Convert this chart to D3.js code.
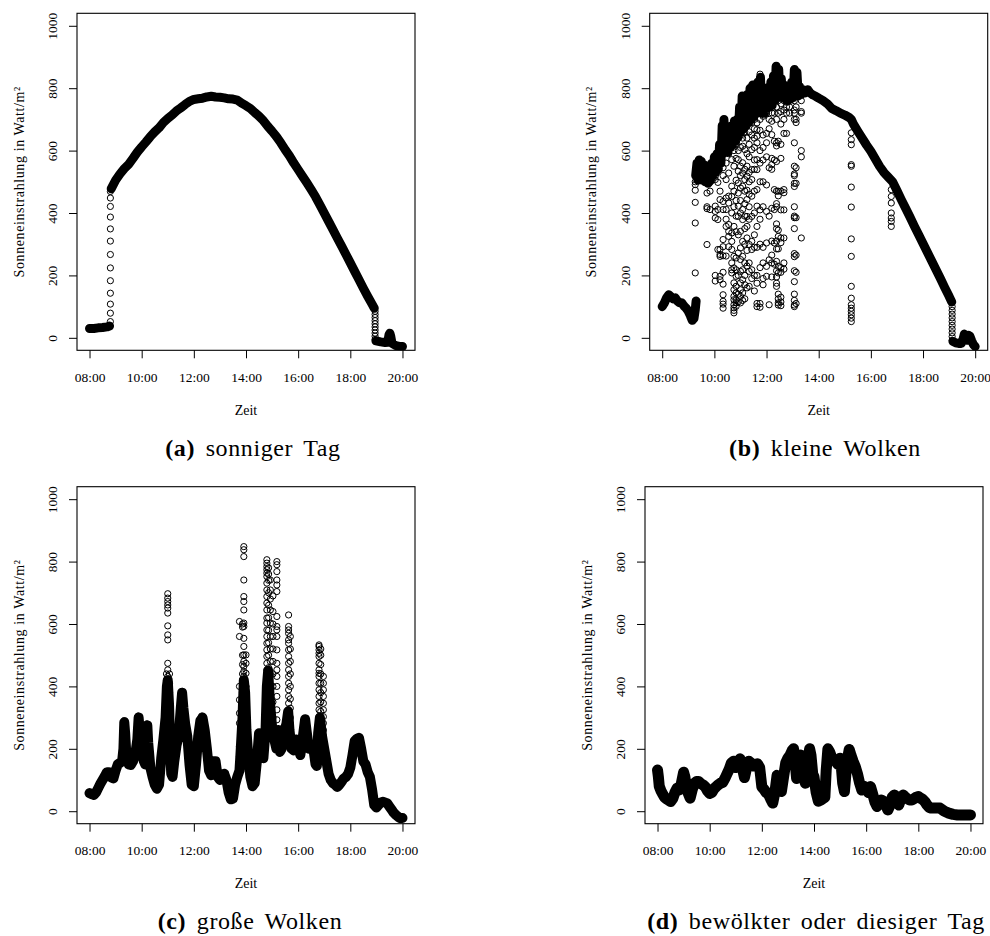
<!DOCTYPE html>
<html>
<head>
<meta charset="utf-8">
<script src="https://cdn.jsdelivr.net/npm/d3@7"></script>
<style>
  body { margin: 0; background: #fff; }
  svg text { font-family: "Liberation Serif", "DejaVu Serif", serif; }
</style>
</head>
<body>
<svg id="chart"></svg>
<script>
// ---- data (time "HH:MM", W/m²) ----
const xTickLabels = ["08:00", "10:00", "12:00", "14:00", "16:00", "18:00", "20:00"];
const yTicks = [0, 200, 400, 600, 800, 1000];
const xTitle = "Zeit";
const yTitle = "Sonneneinstrahlung in Watt/m²";
const captionTags = ["(a)", "(b)", "(c)", "(d)"];
const captionTexts = ["sonniger Tag", "kleine Wolken", "große Wolken", "bewölkter oder diesiger Tag"];

// (a) sonniger Tag: dense trace (null = gap), then columns of single readings
const sunnyTrace = [
  ["08:00",30],["08:10",30],["08:20",32],["08:30",33],["08:40",35],["08:46",38],["08:47",null],
  ["08:50",478],["09:00",505],["09:10",525],["09:20",542],["09:30",556],["09:40",575],["09:50",595],
  ["10:00",612],["10:10",628],["10:20",645],["10:30",660],["10:40",673],["10:50",690],["11:00",703],
  ["11:10",714],["11:20",727],["11:30",737],["11:40",748],["11:50",758],["12:00",764],["12:10",766],
  ["12:20",768],["12:30",772],["12:40",774],["12:50",772],["13:00",771],["13:10",769],["13:20",766],
  ["13:30",765],["13:40",762],["13:50",752],["14:00",744],["14:10",735],["14:20",722],["14:30",710],
  ["14:40",696],["14:50",678],["15:00",662],["15:10",645],["15:20",625],["15:30",603],["15:40",583],
  ["15:50",560],["16:00",539],["16:10",518],["16:20",497],["16:30",475],["16:40",452],["16:50",426],
  ["17:00",400],["17:10",373],["17:20",347],["17:30",320],["17:40",294],["17:50",267],["18:00",240],
  ["18:10",213],["18:20",186],["18:30",159],["18:40",133],["18:50",108],["18:55",95],["18:57",null],
  ["18:59",-10],["19:10",-13],["19:20",-15],["19:26",-14],["19:29",10],["19:31",15],["19:33",5],
  ["19:36",-18],["19:45",-25],["19:55",-28],["20:00",-28]
];
const sunnyColumns = [
  ["08:48", [52, 79, 108, 143, 183, 224, 267, 310, 349, 387, 421, 448, 469]],
  ["18:57", [85, 75, 65, 55, 45, 35, 25, 15, 5, -5]]
];

// (b) kleine Wolken
const smallTrace = [
  ["08:00",100],["08:05",112],["08:10",128],["08:15",138],["08:20",132],["08:25",125],["08:30",128],
  ["08:35",118],["08:40",112],["08:45",112],["08:50",102],["08:55",95],["09:00",85],["09:05",70],
  ["09:09",56],["09:13",62],["09:16",90],["09:18",118],["09:18",null],
  ["09:17",520],["09:20",560],["09:22",505],["09:25",570],["09:27",510],["09:30",565],["09:33",505],
  ["09:36",555],["09:39",500],["09:42",535],["09:45",495],["09:48",540],["09:51",505],["09:54",560],
  ["09:57",520],["10:00",580],["10:03",530],["10:06",590],["10:09",540],["10:12",620],["10:15",560],
  ["10:18",680],["10:20",590],["10:22",700],["10:25",600],["10:28",650],["10:31",595],["10:34",660],
  ["10:37",610],["10:40",680],["10:43",620],["10:46",695],["10:49",630],["10:52",700],["10:55",645],
  ["10:58",740],["11:01",660],["11:04",775],["11:07",670],["11:10",770],["11:13",680],["11:16",780],
  ["11:19",690],["11:22",800],["11:25",700],["11:28",810],["11:31",710],["11:34",800],["11:37",720],
  ["11:40",820],["11:43",725],["11:46",835],["11:49",720],["11:52",790],["11:55",720],["11:58",800],
  ["12:01",735],["12:04",800],["12:07",740],["12:10",820],["12:13",745],["12:16",840],["12:19",760],
  ["12:22",870],["12:25",770],["12:28",860],["12:31",775],["12:34",830],["12:37",770],["12:40",810],
  ["12:43",765],["12:46",790],["12:49",760],["12:52",790],["12:55",765],["12:58",820],["13:01",770],
  ["13:04",860],["13:07",780],["13:10",850],["13:13",775],["13:16",805],["13:20",780],["13:25",795],
  ["13:30",785],["13:35",795],["13:40",785],["13:47",778],["13:53",774],["14:00",768],["14:10",760],
  ["14:20",750],["14:30",735],["14:40",728],["14:50",720],["15:00",714],["15:10",706],["15:15",700],
  ["15:20",685],["15:30",662],["15:40",640],["15:50",618],["16:00",598],["16:10",574],["16:20",550],
  ["16:30",530],["16:40",515],["16:50",500],["17:00",472],["17:10",443],["17:20",415],["17:30",387],
  ["17:40",358],["17:50",330],["18:00",302],["18:10",274],["18:20",246],["18:30",218],["18:40",190],
  ["18:50",161],["19:00",133],["19:06",115],["19:07",null],
  ["19:09",-12],["19:15",-16],["19:22",-18],["19:28",-18],["19:32",-5],["19:35",12],["19:38",0],
  ["19:42",-8],["19:45",8],["19:48",5],["19:52",-10],["19:56",-22],["20:00",-28]
];
const smallColumns = [
  ["09:16", [500, 491, 473, 434, 368, 208]],
  ["09:43", [502, 464, 420, 414, 299]],
  ["09:50", [498, 470, 411]],
  ["10:02", [518, 507, 422, 405, 384, 200, 182]],
  ["10:08", [555, 498, 411, 379, 283]],
  ["10:13", [470, 443, 283, 267, 261, 197, 186]],
  ["10:20", [545, 520, 437, 411, 315, 292, 263, 210, 172, 138, 117, 108, 95]],
  ["10:27", [600, 560, 507, 448, 411, 380, 357, 262]],
  ["10:33", [620, 590, 528, 454, 432, 363, 341, 325, 292]],
  ["10:40", [640, 612, 571, 486, 453, 400, 336, 309, 283, 240, 218, 208]],
  ["10:45", [600, 550, 470, 420, 357, 261, 224, 176, 154, 133, 122, 106, 96, 88, 80]],
  ["10:50", [660, 620, 575, 505, 440, 390, 340, 256, 218, 197, 165, 144, 122, 112, 101]],
  ["10:55", [690, 640, 600, 571, 534, 496, 464, 422, 389, 330, 272, 200, 140, 115]],
  ["11:00", [700, 650, 610, 550, 520, 480, 440, 400, 341, 288, 251, 213, 176, 154, 133, 112]],
  ["11:05", [720, 680, 640, 614, 561, 528, 486, 411, 379, 309, 261, 218, 186, 144, 120]],
  ["11:10", [740, 700, 660, 603, 540, 507, 470, 430, 390, 350, 300, 240, 200, 170, 125]],
  ["11:15", [750, 720, 680, 640, 590, 550, 518, 473, 443, 389, 357, 320, 280, 230, 160]],
  ["11:20", [760, 730, 700, 660, 620, 580, 530, 500, 460, 420, 380, 299, 240, 213, 165]],
  ["11:26", [780, 750, 720, 690, 650, 603, 539, 507, 454, 389, 309, 283, 218, 190]],
  ["11:32", [780, 740, 700, 670, 640, 610, 570, 540, 470, 400, 330, 290, 200, 150]],
  ["11:38", [760, 720, 689, 667, 646, 625, 571, 539, 475, 422, 357, 290, 200, 175, 110, 100]],
  ["11:45", [845, 830, 800, 760, 720, 700, 665, 600, 560, 500, 410, 380, 300, 225, 110, 98]],
  ["11:52", [800, 770, 730, 710, 650, 610, 570, 500, 420, 290, 240, 190, 170]],
  ["12:00", [780, 740, 720, 655, 625, 580, 490, 405, 304, 229, 197]],
  ["12:06", [760, 700, 670, 545, 390, 250, 106]],
  ["12:12", [721, 694, 651, 575, 555, 540, 415, 310, 265, 240, 195]],
  ["12:18", [760, 720, 630, 570, 475, 411, 304, 236]],
  ["12:23", [740, 700, 625, 615, 565, 470, 430, 420, 365, 350, 310, 285, 245, 215, 195, 175, 165]],
  ["12:27", [760, 720, 630, 470, 455, 345, 325, 285, 229, 208, 140, 125, 112, 105]],
  ["12:33", [780, 750, 725, 685, 620, 575, 470, 410, 320, 305, 225, 210, 130, 115, 103]],
  ["12:40", [760, 730, 700, 655, 475, 465, 410, 320, 240, 220]],
  ["12:46", [780, 755, 740, 720, 655]],
  ["12:53", [770, 740, 720]],
  ["13:04", [760, 730, 720, 700, 625, 550, 525, 520, 495, 485, 420, 390, 385, 350, 270, 260, 215, 180, 140, 120, 105, 100]],
  ["13:08", [740, 700, 690, 545, 495, 385, 265, 210, 110]],
  ["13:20", [760, 725, 720, 600, 580, 320]],
  ["15:15", [657, 635, 619, 555, 550, 483, 419, 317, 261, 165, 127, 106, 95, 85, 74, 63, 52]],
  ["16:47", [475, 453, 432, 400, 384, 373, 357]],
  ["19:07", [100, 88, 76, 64, 52, 40, 28, 16, 4, -8]]
];

// (c) große Wolken
const bigTrace = [
  ["08:00",58],["08:05",55],["08:10",52],["08:15",60],["08:20",74],["08:25",88],["08:30",100],
  ["08:35",112],["08:40",125],["08:45",125],["08:50",108],["08:55",105],["09:00",130],["09:05",150],
  ["09:10",155],["09:15",160],["09:18",200],["09:20",285],["09:22",250],["09:25",175],["09:30",150],
  ["09:35",148],["09:40",160],["09:45",180],["09:50",230],["09:53",300],["09:56",250],["10:00",200],
  ["10:05",160],["10:08",150],["10:11",220],["10:13",275],["10:15",220],["10:20",140],["10:25",110],
  ["10:30",85],["10:35",72],["10:40",85],["10:45",170],["10:50",230],["10:55",300],["10:58",400],
  ["11:00",420],["11:03",340],["11:06",180],["11:08",120],["11:11",110],["11:15",160],["11:20",210],
  ["11:25",240],["11:30",330],["11:33",380],["11:36",330],["11:40",280],["11:45",240],["11:50",150],
  ["11:55",85],["12:00",80],["12:05",150],["12:10",240],["12:15",290],["12:20",300],["12:25",260],
  ["12:30",200],["12:35",130],["12:40",115],["12:45",160],["12:50",160],["12:55",110],["13:00",100],
  ["13:05",115],["13:10",120],["13:15",100],["13:20",60],["13:25",38],["13:30",40],["13:35",85],
  ["13:40",110],["13:45",130],["13:48",200],["13:52",300],["13:55",420],["13:58",380],["14:01",260],
  ["14:05",180],["14:10",110],["14:15",80],["14:20",90],["14:25",160],["14:30",250],["14:35",240],
  ["14:40",170],["14:45",260],["14:48",400],["14:51",450],["14:55",350],["15:00",270],["15:05",230],
  ["15:10",200],["15:14",260],["15:18",190],["15:22",200],["15:27",250],["15:33",280],["15:37",320],
  ["15:40",260],["15:45",200],["15:50",195],["15:55",230],["16:00",220],["16:05",180],["16:10",230],
  ["16:16",295],["16:20",250],["16:25",200],["16:30",210],["16:35",200],["16:40",150],["16:43",145],
  ["16:46",250],["16:50",300],["16:55",240],["17:00",200],["17:05",160],["17:10",120],["17:15",100],
  ["17:20",90],["17:25",85],["17:30",78],["17:35",85],["17:40",95],["17:45",105],["17:50",110],
  ["17:55",120],["18:00",140],["18:05",180],["18:10",225],["18:15",232],["18:20",235],["18:25",200],
  ["18:30",160],["18:35",150],["18:40",125],["18:45",110],["18:50",70],["18:55",20],["19:00",12],
  ["19:05",20],["19:10",28],["19:15",30],["19:20",28],["19:25",25],["19:30",15],["19:35",5],
  ["19:40",-5],["19:45",-12],["19:50",-18],["19:55",-22],["20:00",-22]
];
const bigColumns = [
  ["09:20", [290, 280, 270]],
  ["09:52", [305, 295, 285]],
  ["10:12", [280, 270, 260]],
  ["10:57", [440, 420, 400, 380, 360]],
  ["11:00", [697, 683, 672, 661, 651, 635, 594, 565, 549, 474, 453, 432, 416, 400, 384, 368, 346, 325, 303, 282, 261, 239]],
  ["11:04", [440, 410, 380, 350, 320, 300, 280, 250, 220, 200]],
  ["11:33", [384, 375, 365, 355]],
  ["12:18", [305, 300]],
  ["13:45", [608, 560, 400, 357, 314, 282, 207, 175]],
  ["13:52", [600, 590, 500, 470, 440, 420, 380, 340, 300, 270, 240]],
  ["13:55", [848, 838, 816, 741, 688, 672, 645, 603, 592, 554, 528, 501, 480, 464, 448, 432, 410, 389, 368, 346, 325, 303]],
  ["14:00", [501, 474, 442, 400, 368, 346, 325, 261, 239]],
  ["14:48", [806, 795, 784, 774, 763, 752, 731, 709, 688, 667, 645, 619, 603, 581, 560, 538, 517, 496, 474, 453, 432, 410, 389, 368, 346, 325, 303]],
  ["14:52", [780, 760, 740, 700, 660, 620, 580, 540, 500, 460, 420, 380, 340, 300]],
  ["14:56", [741, 709, 680, 645, 603, 560, 520, 480, 440, 400, 360, 320, 280]],
  ["15:02", [690, 640, 600, 560, 520, 480, 440, 400, 350, 300]],
  ["15:11", [800, 790, 768, 741, 725, 704, 624, 592, 581, 560, 517, 474, 453, 432, 400, 368, 325, 293]],
  ["15:38", [629, 592, 581, 570, 549, 538, 517, 496, 474, 453, 432, 410, 389, 368, 346, 325, 303]],
  ["15:42", [560, 520, 480, 440, 400, 360, 330, 300, 280]],
  ["16:48", [533, 528, 517, 506, 496, 474, 453, 442, 432, 410, 389, 368, 346, 325, 303, 282]],
  ["16:52", [520, 500, 470, 440, 410, 380, 350, 320, 290]],
  ["16:58", [432, 410, 389, 368, 346, 325, 303, 282, 260, 240, 220]]
];

// (d) bewölkter oder diesiger Tag
const cloudyTrace = [
  ["08:00",132],["08:02",110],["08:04",80],["08:08",65],["08:12",55],["08:16",45],["08:20",40],
  ["08:25",36],["08:30",31],["08:35",40],["08:40",60],["08:45",74],["08:50",68],["08:55",90],
  ["09:00",125],["09:03",110],["09:06",80],["09:10",60],["09:15",42],["09:20",70],["09:25",90],
  ["09:30",95],["09:35",95],["09:40",88],["09:45",84],["09:50",78],["09:55",65],["10:00",57],
  ["10:05",60],["10:10",72],["10:15",79],["10:20",85],["10:25",90],["10:30",92],["10:35",105],
  ["10:40",120],["10:45",135],["10:50",155],["10:55",160],["11:00",140],["11:05",150],["11:10",168],
  ["11:15",140],["11:20",108],["11:25",140],["11:30",160],["11:35",155],["11:40",145],["11:45",150],
  ["11:50",152],["11:55",140],["12:00",78],["12:05",70],["12:10",60],["12:15",55],["12:20",40],
  ["12:25",26],["12:30",60],["12:35",115],["12:40",100],["12:45",63],["12:50",110],["12:55",155],
  ["13:00",170],["13:05",180],["13:10",195],["13:13",200],["13:17",150],["13:20",105],["13:25",140],
  ["13:30",180],["13:33",170],["13:37",110],["13:40",90],["13:45",150],["13:50",200],["13:53",180],
  ["13:57",120],["14:00",110],["14:05",60],["14:10",32],["14:15",35],["14:20",40],["14:25",45],
  ["14:28",130],["14:32",200],["14:36",190],["14:40",175],["14:45",165],["14:50",160],["14:55",150],
  ["15:00",170],["15:03",140],["15:06",90],["15:10",63],["15:14",130],["15:18",175],["15:21",198],
  ["15:25",180],["15:30",160],["15:35",143],["15:40",120],["15:45",90],["15:50",68],["15:55",80],
  ["16:00",75],["16:05",60],["16:10",79],["16:15",55],["16:20",30],["16:25",15],["16:30",30],
  ["16:35",36],["16:40",32],["16:45",20],["16:50",4],["16:55",20],["17:00",45],["17:05",52],
  ["17:10",40],["17:15",20],["17:20",40],["17:25",52],["17:30",45],["17:35",40],["17:40",36],
  ["17:45",36],["17:50",40],["17:55",45],["18:00",47],["18:05",42],["18:10",38],["18:15",31],
  ["18:20",20],["18:25",12],["18:30",10],["18:40",10],["18:50",10],["18:55",5],["19:00",0],
  ["19:10",-6],["19:20",-10],["19:30",-12],["19:40",-12],["19:50",-12],["20:00",-12]
];
const cloudyColumns = [];

// ---- layout ----
const width = 990, height = 936;
const plotW = 338, plotH = 337;
const panels = [
  { left: 77,    top: 13.3,  trace: sunnyTrace,  cols: sunnyColumns,  band: 9,    capX: 253 },
  { left: 649.7, top: 13.3,  trace: smallTrace,  cols: smallColumns,  band: 9,    capX: 825 },
  { left: 77,    top: 486.7, trace: bigTrace,    cols: bigColumns,    band: 10,   capX: 250 },
  { left: 645,   top: 486.7, trace: cloudyTrace, cols: cloudyColumns, band: 11,   capX: 816 }
];
const serif = "'Liberation Serif', 'DejaVu Serif', serif";

const parseTime = d3.timeParse("%H:%M");
const tickDates = xTickLabels.map(parseTime);
const t0 = tickDates[0], t1 = tickDates[tickDates.length - 1];
const tPad = (t1 - t0) * 0.04;
const yPad = (d3.max(yTicks) - d3.min(yTicks)) * 0.04;

const svg = d3.select("#chart").attr("width", width).attr("height", height);

panels.forEach((p, i) => {
  const x = d3.scaleTime()
    .domain([new Date(+t0 - tPad), new Date(+t1 + tPad)])
    .range([0, plotW]);
  const y = d3.scaleLinear()
    .domain([d3.min(yTicks) - yPad, d3.max(yTicks) + yPad])
    .range([plotH, 0]);

  const g = svg.append("g").attr("transform", `translate(${p.left},${p.top})`);

  g.append("clipPath").attr("id", "clip" + i)
    .append("rect").attr("width", plotW).attr("height", plotH);

  const plot = g.append("g").attr("clip-path", `url(#clip${i})`);

  // dense readings form the thick band
  const line = d3.line()
    .defined(d => d[1] != null)
    .x(d => x(parseTime(d[0])))
    .y(d => y(d[1]));

  plot.append("path")
    .datum(p.trace)
    .attr("d", line)
    .attr("fill", "none")
    .attr("stroke", "#000")
    .attr("stroke-width", p.band)
    .attr("stroke-linejoin", "round")
    .attr("stroke-linecap", "round");

  // single readings as open circles
  const points = p.cols.flatMap(([t, vals]) => vals.map(v => [t, v]));
  plot.selectAll("circle")
    .data(points)
    .enter()
    .append("circle")
    .attr("cx", d => x(parseTime(d[0])))
    .attr("cy", d => y(d[1]))
    .attr("r", 3.1)
    .attr("fill", "none")
    .attr("stroke", "#000")
    .attr("stroke-width", 1);

  // box
  g.append("rect")
    .attr("width", plotW).attr("height", plotH)
    .attr("fill", "none").attr("stroke", "#000").attr("stroke-width", 1.1);

  // axes
  const xAxis = g.append("g")
    .attr("transform", `translate(0,${plotH})`)
    .call(d3.axisBottom(x).tickValues(tickDates).tickFormat(d3.timeFormat("%H:%M"))
      .tickSize(8).tickSizeOuter(0).tickPadding(14));
  xAxis.select(".domain").remove();

  const yAxis = g.append("g")
    .call(d3.axisLeft(y).tickValues(yTicks).tickFormat(d3.format("d"))
      .tickSize(8).tickSizeOuter(0));
  yAxis.select(".domain").remove();
  yAxis.selectAll(".tick text")
    .attr("transform", "rotate(-90)")
    .attr("x", 0).attr("y", -20).attr("dy", 0)
    .attr("text-anchor", "middle");

  [xAxis, yAxis].forEach(a => {
    a.attr("font-family", serif).attr("font-size", 13.5);
    a.selectAll("line").attr("stroke", "#000").attr("stroke-width", 1);
    a.selectAll("text").attr("fill", "#000").attr("font-family", serif);
  });

  // axis titles
  g.append("text")
    .attr("x", plotW / 2).attr("y", plotH + 64.5)
    .attr("text-anchor", "middle")
    .attr("font-family", serif)
    .attr("font-size", 14)
    .text(xTitle);

  g.append("text")
    .attr("transform", `translate(-53.5,${plotH / 2}) rotate(-90)`)
    .attr("text-anchor", "middle")
    .attr("font-family", serif)
    .attr("font-size", 14)
    .style("letter-spacing", "0.6px")
    .text(yTitle);

  // sub-caption
  const cap = svg.append("text")
    .attr("x", p.capX).attr("y", p.top + 442.7)
    .attr("text-anchor", "middle")
    .attr("font-family", serif)
    .attr("font-size", 24)
    .style("letter-spacing", "0.6px")
    .style("word-spacing", "4px");
  cap.append("tspan").attr("font-weight", "bold").text(captionTags[i]);
  cap.append("tspan").text(" " + captionTexts[i]);
});
</script>
</body>
</html>
